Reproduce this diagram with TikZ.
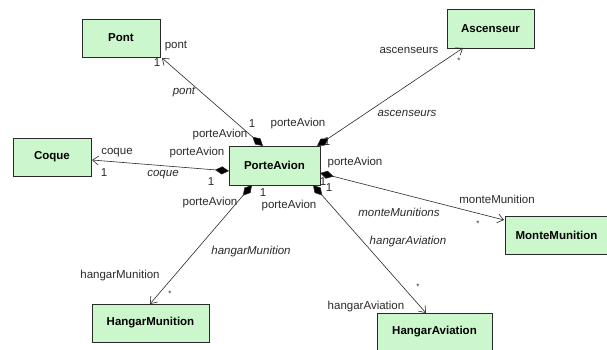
\documentclass[tikz,border=0pt]{standalone}
\usepackage{fontspec}
\setmainfont{Liberation Sans}
\usetikzlibrary{arrows.meta}
\definecolor{boxfill}{HTML}{CCF7CC}
\definecolor{ink}{HTML}{2A2A2A}
\begin{document}
\begin{tikzpicture}[x=1pt,y=-1pt,
  cls/.style={draw=ink, line width=0.8pt, fill=boxfill, inner sep=0pt, font=\fontsize{11.5}{13}\selectfont\bfseries},
  lbl/.style={inner sep=0pt, text=ink, font=\fontsize{11.5}{13}\selectfont},
  ilbl/.style={lbl, font=\fontsize{11.5}{13}\selectfont\itshape},
  star/.style={inner sep=0pt, text=ink, font=\fontsize{8}{9}\selectfont},
  assoc/.style={draw=ink, line width=0.6pt,
    {Diamond[length=14pt,width=8pt,fill=black]}-{Straight Barb[length=6pt,width=9pt]}}
]
\useasboundingbox (0,0) rectangle (607,350);
\fill[white] (0,0) rectangle (607,350);

% classes
\node[cls, minimum width=78pt, minimum height=38pt] (pont) at (121,38) {Pont};
\node[cls, minimum width=78pt, minimum height=38pt] (coque) at (52,157) {Coque};
\node[cls, minimum width=91pt, minimum height=39pt] (pa) at (274.5,165.5) {PorteAvion};
\node[cls, minimum width=87pt, minimum height=39pt] (asc) at (490.5,28.5) {Ascenseur};
\node[cls, minimum width=103pt, minimum height=38pt] (mm) at (556.5,235) {MonteMunition};
\node[cls, minimum width=117pt, minimum height=38pt] (hm) at (150.5,323) {HangarMunition};
\node[cls, minimum width=115pt, minimum height=38pt] (ha) at (434.5,332) {HangarAviation};

% connector end points
\coordinate (paN1) at (263,146);
\coordinate (paN2) at (317,146);
\coordinate (paW) at (229,171);
\coordinate (paE) at (320,173);
\coordinate (paS1) at (252,185);
\coordinate (paS2) at (313,185);
\coordinate (pontE) at (162,58);
\coordinate (ascE) at (463,48);
\coordinate (coqueE) at (92,160);
\coordinate (mmE) at (504,220);
\coordinate (hmE) at (150,304);
\coordinate (haE) at (426,313);

\draw[assoc] (paN1) -- (pontE);
\draw[assoc] (paN2) -- (ascE);
\draw[assoc] (paW) -- (coqueE);
\draw[assoc] (paE) -- (mmE);
\draw[assoc] (paS1) -- (hmE);
\draw[assoc] (paS2) -- (haE);

% Pont association
\node[lbl] (l1) at (176,46) {pont};
\node[lbl] (l2) at (157,63) {1};
\node[ilbl] (l3) at (184,92) {pont};
\node[lbl] (l4) at (252,124) {1};
\node[lbl] (l5) at (220,135) {porteAvion};

% Coque association
\node[lbl] (l6) at (197,153) {porteAvion};
\node[lbl] (l7) at (117,153) {coque};
\node[lbl] (l8) at (104,173) {1};
\node[ilbl] (l9) at (163,175) {coque};
\node[lbl] (l10) at (211,182) {1};

% Ascenseur association
\node[lbl] (l11) at (298,124) {porteAvion};
\node[lbl] (l12) at (327,142) {1};
\node[lbl] (l13) at (409,50) {ascenseurs};
\node[star] (l14) at (459,61) {*};
\node[ilbl] (l15) at (407,113) {ascenseurs};

% MonteMunition association
\node[lbl] (l16) at (355,163) {porteAvion};
\node[lbl] (l17) at (323,182) {1};
\node[lbl] (l18) at (329,188) {1};
\node[lbl] (l19) at (497,199) {monteMunition};
\node[star] (l20) at (478,224) {*};
\node[ilbl] (l21) at (399,212) {monteMunitions};

% HangarAviation association
\node[lbl] (l22) at (289,206) {porteAvion};
\node[ilbl] (l23) at (408,242) {hangarAviation};
\node[star] (l24) at (418,287) {*};
\node[lbl] (l25) at (366,307) {hangarAviation};

% HangarMunition association
\node[lbl] (l26) at (263,193) {1};
\node[lbl] (l27) at (210,203) {porteAvion};
\node[ilbl] (l28) at (251,252) {hangarMunition};
\node[lbl] (l29) at (120,276) {hangarMunition};
\node[star] (l30) at (170,294) {*};
\end{tikzpicture}
\end{document}
